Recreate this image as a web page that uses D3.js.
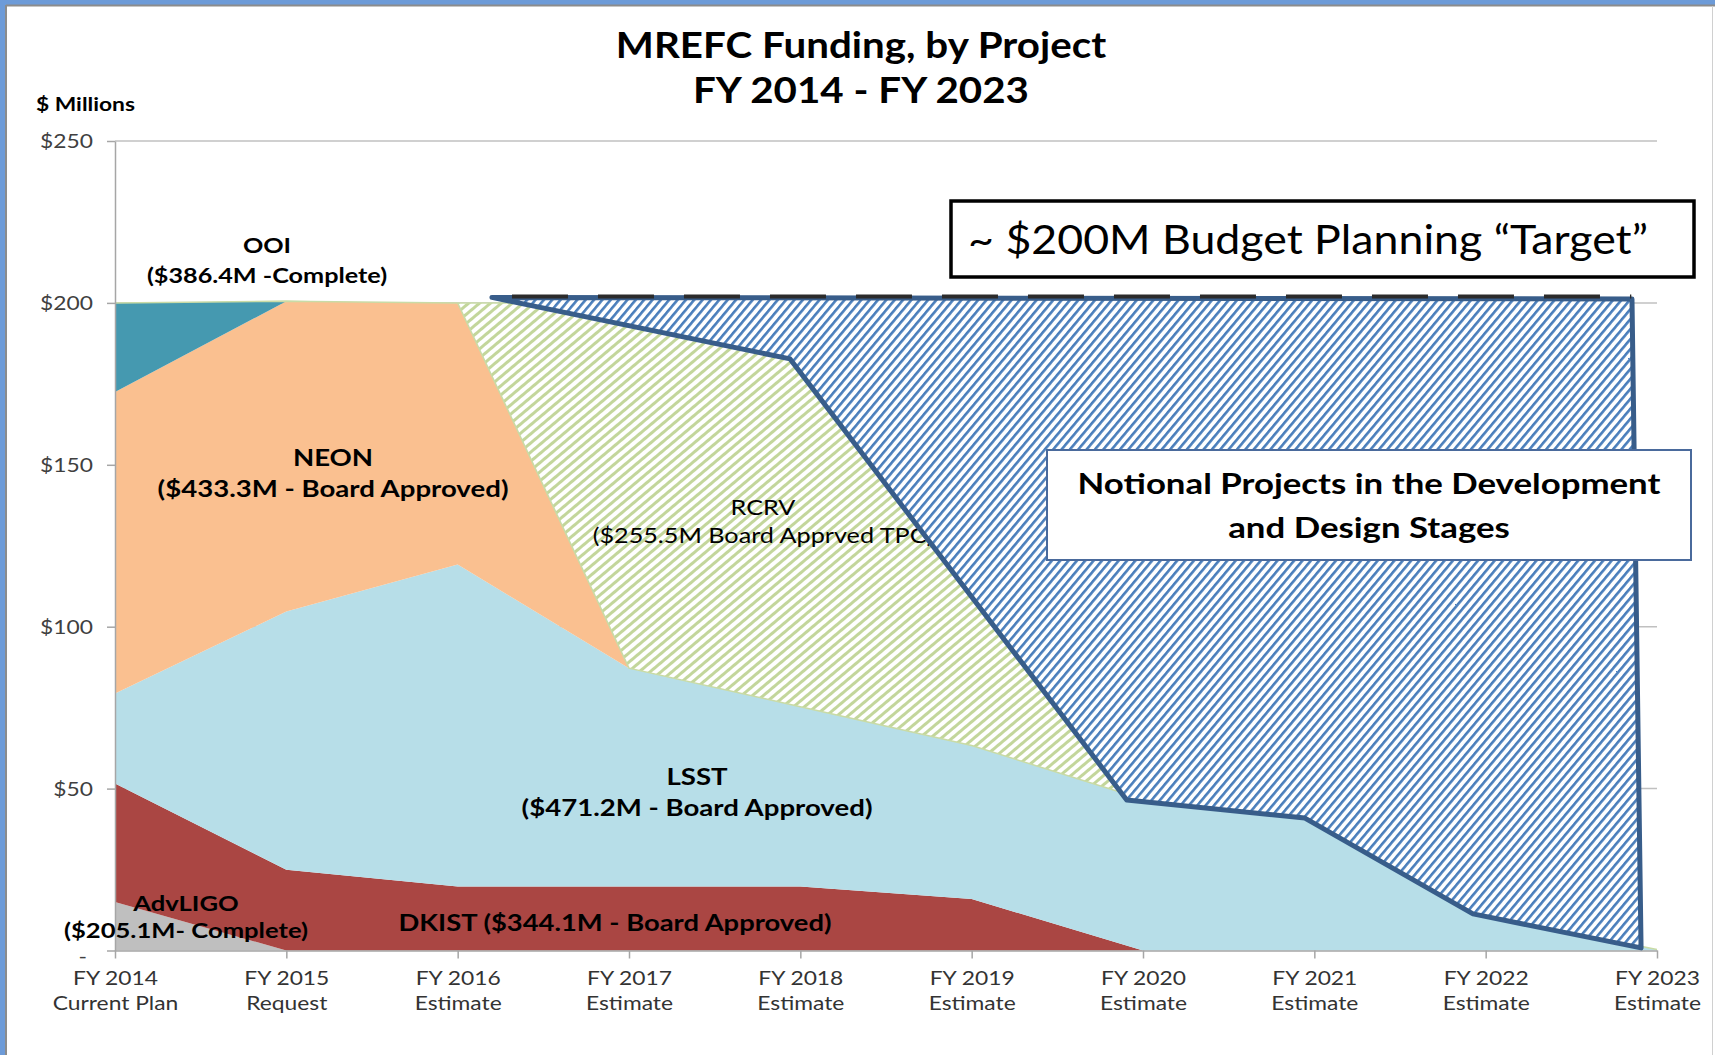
<!DOCTYPE html>
<html>
<head>
<meta charset="utf-8">
<script src="https://cdn.jsdelivr.net/npm/d3@7"></script>
<style>
  body { margin: 0; background: #fff; }
  svg text { font-family: Lato, "Open Sans", sans-serif; }
</style>
</head>
<body>
<div id="chart"></div>
<script>
// categories (two-line tick labels)
const years = ['FY 2014', 'FY 2015', 'FY 2016', 'FY 2017', 'FY 2018', 'FY 2019', 'FY 2020', 'FY 2021', 'FY 2022', 'FY 2023'];
const yearNotes = ['Current Plan', 'Request', 'Estimate', 'Estimate', 'Estimate', 'Estimate', 'Estimate', 'Estimate', 'Estimate', 'Estimate'];

// $ millions per project, stacked bottom to top
const advLIGO = [15, 0, 0, 0, 0, 0, 0, 0, 0, 0];
const dkist   = [36.6, 24.9, 19.8, 19.8, 19.8, 15.9, 0, 0, 0, 0];
const lsst    = [27.8, 79.8, 99.4, 67.4, 55.5, 47.4, 46.7, 41.0, 10.8, 0.3];
const neon    = [93.1, 95.8, 80.8, 0, 0, 0, 0, 0, 0, 0];
const ooi     = [27.5, 0, 0, 0, 0, 0, 0, 0, 0, 0];
const rcrv    = [0, 0, 0, 112.8, 124.7, 136.7, 0, 0, 0, 0];

// notional projects outline (category position, $M)
const notionalPos = [2.20, 3.94, 5.905, 6.945, 7.926, 8.907, 8.854];
const notionalVal = [201.7, 182.7, 46.5, 40.9, 11.3, 0.8, 201.2];
// ~$200M target dashed line
const targetPos = [2.317, 8.85];
const targetVal = [202, 202];

const yTicks = [0, 50, 100, 150, 200, 250];

const keys = ['advLIGO', 'dkist', 'lsst', 'neon', 'ooi', 'rcrv'];
const colors = {
    advLIGO: '#bfbfbf',
    dkist: '#aa4643',
    lsst: '#b7dee8',
    neon: '#fac090',
    ooi: '#4599b0',
    rcrv: 'url(#greenHatch)'
};

const table = years.map((y, i) => ({
    advLIGO: advLIGO[i], dkist: dkist[i], lsst: lsst[i],
    neon: neon[i], ooi: ooi[i], rcrv: rcrv[i]
}));

const width = 1715, height = 1055;
const svg = d3.select('#chart').append('svg')
    .attr('width', width)
    .attr('height', height);

// patterns
const defs = svg.append('defs');
defs.append('pattern')
    .attr('id', 'greenHatch')
    .attr('patternUnits', 'userSpaceOnUse')
    .attr('width', 7).attr('height', 7)
    .attr('patternTransform', 'rotate(-40)')
    .call(p => {
        p.append('rect').attr('width', 7).attr('height', 7).attr('fill', '#fff');
        p.append('rect').attr('width', 7).attr('height', 3).attr('fill', '#c3d69b');
    });
defs.append('pattern')
    .attr('id', 'blueHatch')
    .attr('patternUnits', 'userSpaceOnUse')
    .attr('width', 6.4).attr('height', 6.4)
    .attr('patternTransform', 'rotate(-50)')
    .call(p => {
        p.append('rect').attr('width', 6.4).attr('height', 6.4).attr('fill', '#fff');
        p.append('rect').attr('width', 6.4).attr('height', 2.6).attr('fill', '#4a7ebb');
    });

// frame
svg.append('rect').attr('x', 0).attr('y', 0).attr('width', width).attr('height', 5).attr('fill', '#6d9bd8');
svg.append('rect').attr('x', 0).attr('y', 0).attr('width', 5).attr('height', height).attr('fill', '#6d9bd8');
svg.append('line').attr('x1', 6).attr('x2', width).attr('y1', 5.5).attr('y2', 5.5).attr('stroke', '#8c8c8c').attr('stroke-width', 2);
svg.append('line').attr('x1', 6).attr('x2', 6).attr('y1', 5).attr('y2', height).attr('stroke', '#8c8c8c').attr('stroke-width', 2);
svg.append('line').attr('x1', 1712.5).attr('x2', 1712.5).attr('y1', 6).attr('y2', height).attr('stroke', '#d0d0d0').attr('stroke-width', 1);

const x = d3.scaleLinear().domain([0, years.length - 1]).range([115, 1657]);
const y = d3.scaleLinear().domain([0, 250]).range([950.5, 141]);

// gridlines
svg.append('g')
    .selectAll('line')
    .data(yTicks.filter(d => d > 0))
    .join('line')
    .attr('x1', x(0)).attr('x2', x(9))
    .attr('y1', d => y(d)).attr('y2', d => y(d))
    .attr('stroke', '#c0c0c0').attr('stroke-width', 1.5);

// stacked areas
const series = d3.stack().keys(keys)(table);
const area = d3.area()
    .x((d, i) => x(i))
    .y0(d => y(d[0]))
    .y1(d => y(d[1]));

svg.append('g')
    .selectAll('path')
    .data(series)
    .join('path')
    .attr('d', area)
    .attr('fill', d => colors[d.key])
    .attr('stroke', d => d.key === 'rcrv' ? '#c9dba6' : 'none')
    .attr('stroke-width', 1.5);

// axes
const yAxis = svg.append('g')
    .attr('transform', `translate(${x(0)},0)`)
    .call(d3.axisLeft(y).tickValues(yTicks).tickSize(8).tickSizeOuter(0)
        .tickFormat(d => d === 0 ? '-' : '$' + d));
yAxis.select('.domain').attr('stroke', '#a6a6a6').attr('stroke-width', 1.5);
yAxis.selectAll('.tick line').attr('stroke', '#a6a6a6').attr('stroke-width', 1.5);
yAxis.selectAll('.tick text')
    .attr('fill', '#404040')
    .style('font-size', '20px')
    .attr('x', 0)
    .attr('dy', d => d === 0 ? '0.6em' : '0.32em')
    .attr('transform', d => `translate(${d === 0 ? -28 : -22},0) scale(1.14,1)`);

const xAxis = svg.append('g')
    .attr('transform', `translate(0,${y(0)})`)
    .call(d3.axisBottom(x).tickValues(d3.range(years.length)).tickSize(8).tickSizeOuter(0).tickFormat(''));
xAxis.select('.domain').attr('stroke', '#a6a6a6').attr('stroke-width', 1.5);
xAxis.selectAll('.tick line').attr('stroke', '#a6a6a6').attr('stroke-width', 1.5);
xAxis.selectAll('.tick').each(function(d) {
    const t = d3.select(this).append('text')
        .attr('fill', '#333')
        .attr('text-anchor', 'middle')
        .attr('transform', 'scale(1.17,1)')
        .style('font-size', '19.5px');
    t.append('tspan').attr('x', 0).attr('y', 35).text(years[d]);
    t.append('tspan').attr('x', 0).attr('y', 60).text(yearNotes[d]);
});

// centred multi-line text, stretched horizontally like the original
function label(lines, cx, baseline, size, weight, gap, sx) {
    const t = svg.append('text')
        .attr('text-anchor', 'middle')
        .attr('fill', '#000')
        .attr('transform', `translate(${cx},0) scale(${sx},1)`)
        .style('font-size', size + 'px')
        .style('font-weight', weight);
    lines.forEach((s, i) => t.append('tspan').attr('x', 0).attr('y', baseline + i * gap).text(s));
    return t;
}

// drawn under the notional shape, which clips its end
label(['RCRV', '($255.5M Board Apprved TPC)'], 763, 515, 21, 'normal', 28, 1.2);

// notional projects shape
const pts = notionalPos.map((p, i) => [p, notionalVal[i]]);
svg.append('path')
    .attr('d', d3.line().x(d => x(d[0])).y(d => y(d[1]))(pts) + 'Z')
    .attr('fill', 'url(#blueHatch)')
    .attr('stroke', '#385d8a')
    .attr('stroke-width', 5)
    .attr('stroke-linejoin', 'round');

// target dashed line
svg.append('path')
    .attr('d', d3.line().x(d => x(d[0])).y(d => y(d[1]))(targetPos.map((p, i) => [p, targetVal[i]])))
    .attr('stroke', '#2b2b2b')
    .attr('stroke-width', 4)
    .attr('stroke-dasharray', '56,30')
    .attr('fill', 'none');

// project labels
label(['OOI', '($386.4M -Complete)'], 267, 253, 21, 'bold', 30, 1.2);
label(['NEON', '($433.3M - Board Approved)'], 333, 466, 23, 'bold', 31, 1.2);
label(['LSST', '($471.2M  - Board Approved)'], 697, 785, 23, 'bold', 31, 1.2);
label(['AdvLIGO', '($205.1M-  Complete)'], 186, 911, 21, 'bold', 27, 1.22);
label(['DKIST ($344.1M - Board Approved)'], 615, 931, 23, 'bold', 0, 1.19);

// title
label(['MREFC Funding, by Project', 'FY 2014 - FY 2023'], 861, 58, 36, 'bold', 45, 1.12);
svg.append('text')
    .attr('transform', 'translate(36,111) scale(1.2,1)')
    .style('font-size', '19px').style('font-weight', 'bold')
    .text('$ Millions');

// budget target box
svg.append('rect')
    .attr('x', 951).attr('y', 201).attr('width', 743).attr('height', 76)
    .attr('fill', '#fff').attr('stroke', '#000').attr('stroke-width', 3.5);
label(['~ $200M Budget Planning \u201CTarget\u201D'], 1308, 254, 41, 'normal', 0, 1.09);

// notional box
svg.append('rect')
    .attr('x', 1047).attr('y', 450).attr('width', 644).attr('height', 110)
    .attr('fill', '#fff').attr('stroke', '#4a6a9c').attr('stroke-width', 2);
label(['Notional Projects in the Development', 'and Design Stages'], 1369, 494, 29, 'bold', 44, 1.2);
</script>
</body>
</html>
